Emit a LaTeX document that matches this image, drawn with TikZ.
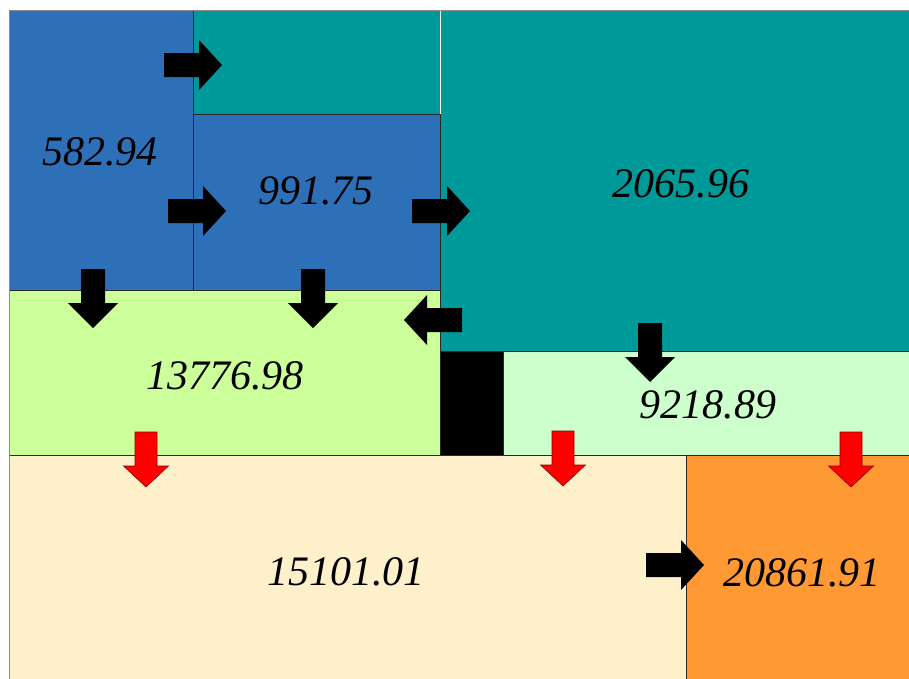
\documentclass[tikz,border=0pt]{standalone}
\usepackage{fontspec}
\setmainfont{Liberation Serif}
\definecolor{cblue}{HTML}{2E70B8}
\definecolor{cteal}{HTML}{009999}
\definecolor{clgreen}{HTML}{CCFF99}
\definecolor{cpgreen}{HTML}{CCFFCC}
\definecolor{ccream}{HTML}{FFF0CC}
\definecolor{corange}{HTML}{FF9933}
\definecolor{cred}{HTML}{FF0000}
\definecolor{cdred}{HTML}{8A0000}
\definecolor{cline}{HTML}{2A2A2A}
\definecolor{cframe}{HTML}{8C8C8C}
\tikzset{
  region/.style={draw=cline, line width=0.8pt},
  val/.style={font=\itshape\fontsize{42}{42}\selectfont, anchor=base, inner sep=0pt},
  pics/rarr/.style={code={\fill[black] (0,-12)--(35,-12)--(35,-25)--(58,0)--(35,25)--(35,12)--(0,12)--cycle;}},
  pics/larr/.style={code={\fill[black] (0,-12)--(-35,-12)--(-35,-25)--(-58,0)--(-35,25)--(-35,12)--(0,12)--cycle;}},
  pics/darr/.style={code={\fill[black] (-12,0)--(-12,34)--(-25,34)--(0,59)--(25,34)--(12,34)--(12,0)--cycle;}},
  pics/redarr/.style={code={\filldraw[fill=cred, draw=cdred, line width=0.6pt] (-11,0)--(-11,34)--(-22.5,34)--(0,55)--(22.5,34)--(11,34)--(11,0)--cycle;}},
}
\begin{document}
\begin{tikzpicture}[x=1pt,y=-1pt]
\useasboundingbox (0,0) rectangle (909,678);
\clip (0,0) rectangle (909,678);
\fill[white] (0,0) rectangle (909,678);
% regions
\filldraw[region, fill=cteal] (193,10)--(912,10)--(912,351)--(440,351)--(440,114)--(193,114)--cycle;
\draw[white, line width=0.8pt] (440,10)--(440,114);
\filldraw[region, fill=cblue] (9,10) rectangle (193,290);
\filldraw[region, fill=cblue] (193,114) rectangle (440,290);
\filldraw[region, fill=clgreen] (9,290) rectangle (440,455);
\filldraw[region, fill=black] (440,351) rectangle (503,455);
\filldraw[region, fill=cpgreen] (503,351) rectangle (912,455);
\filldraw[region, fill=ccream] (9,455) rectangle (686,681);
\filldraw[region, fill=corange] (686,455) rectangle (912,681);
% outer frame
\draw[cframe, line width=0.8pt] (9,681)--(9,10)--(912,10);
% labels
\node[val] (a) at (100,165) {582.94};
\node[val] (b) at (316,204) {991.75};
\node[val] (c) at (681,197) {2065.96};
\node[val] (d) at (225,389) {13776.98};
\node[val] (e) at (708,418) {9218.89};
\node[val] (f) at (346,585) {15101.01};
\node[val] (g) at (802,586) {20861.91};
% black arrows
\pic at (164,65) {rarr};
\pic at (168,211) {rarr};
\pic at (412,211) {rarr};
\pic at (462,320) {larr};
\pic at (93,269) {darr};
\pic at (313,269) {darr};
\pic at (650,323) {darr};
\pic at (646,565) {rarr};
% red arrows
\pic at (146,432) {redarr};
\pic at (563,431) {redarr};
\pic at (851,432) {redarr};
\end{tikzpicture}
\end{document}
